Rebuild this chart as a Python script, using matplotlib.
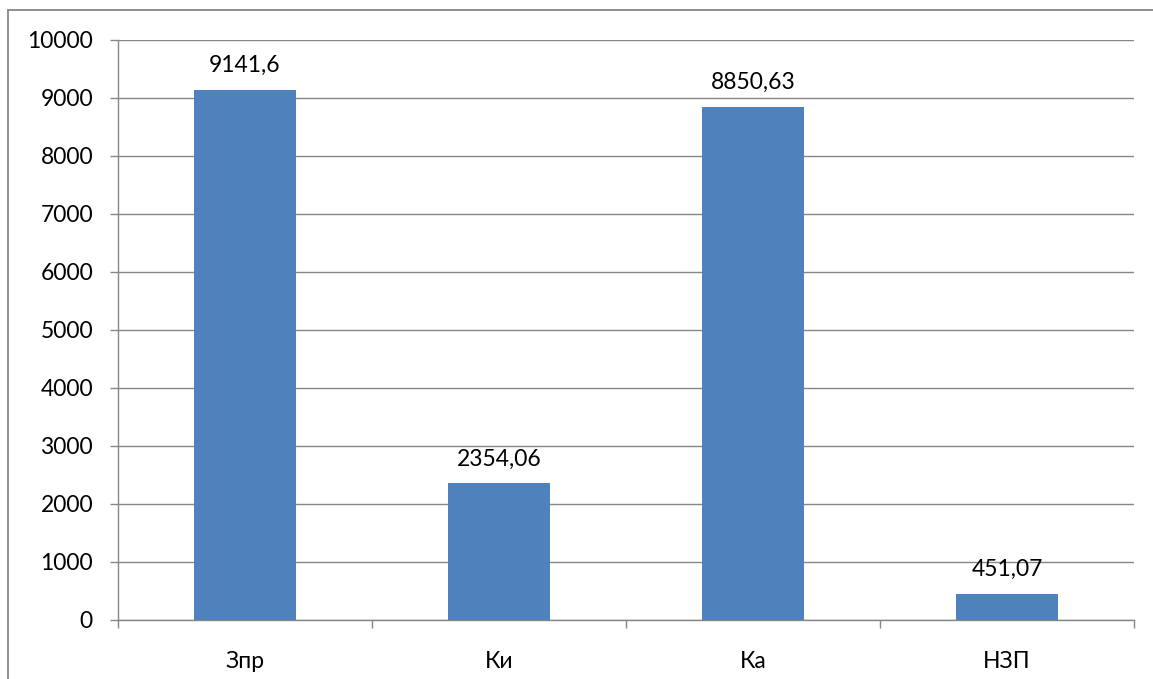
import numpy as np
import matplotlib.pyplot as plt
from matplotlib.patches import Rectangle

# Data
categories = ['Зпр', 'Ки', 'Ка', 'НЗП']
values = [9141.6, 2354.06, 8850.63, 451.07]
value_labels = ['9141,6', '2354,06', '8850,63', '451,07']
yticks = np.arange(0, 10001, 1000)

plt.rcParams['font.family'] = ['Lato', 'DejaVu Sans']
FS = 16.5

fig = plt.figure(figsize=(11.53, 6.79), dpi=100)
ax = fig.add_axes([118 / 1153, 1 - 620 / 679, (1134 - 118) / 1153, (620 - 40) / 679])

# outer chart border (runs off the right and bottom edges)
fig.patches.append(Rectangle((8 / 1153, -0.05), 1.2, 1 - 10 / 679 + 0.05,
                             transform=fig.transFigure, fill=False,
                             edgecolor='#868686', linewidth=1.3))

x = np.arange(len(categories))
ax.bar(x, values, width=0.40, color='#4F81BD', zorder=3)

for xi, v, lab in zip(x, values, value_labels):
    ax.annotate(lab, (xi, v), xytext=(0, 10), textcoords='offset points',
                ha='center', va='bottom', fontsize=FS)

ax.set_xlim(-0.5, len(categories) - 0.5)
ax.set_ylim(0, 10000)
ax.set_yticks(yticks)
ax.set_yticklabels([str(t) for t in yticks], fontsize=FS)
ax.yaxis.grid(True, color='#868686', linewidth=1)
ax.set_axisbelow(True)

# category labels in the middle, tick marks on the boundaries
ax.set_xticks(x)
ax.set_xticklabels(categories, fontsize=FS)
ax.tick_params(axis='x', length=0, pad=22)
ax.set_xticks(np.arange(-0.5, len(categories)), minor=True)
ax.tick_params(axis='x', which='minor', length=6, color='#868686', width=1)
ax.tick_params(axis='y', length=6, color='#868686', width=1, pad=12)

for side in ['top', 'right']:
    ax.spines[side].set_visible(False)
for side in ['left', 'bottom']:
    ax.spines[side].set_color('#868686')
    ax.spines[side].set_linewidth(1)

fig.savefig('out.png', dpi=100)
